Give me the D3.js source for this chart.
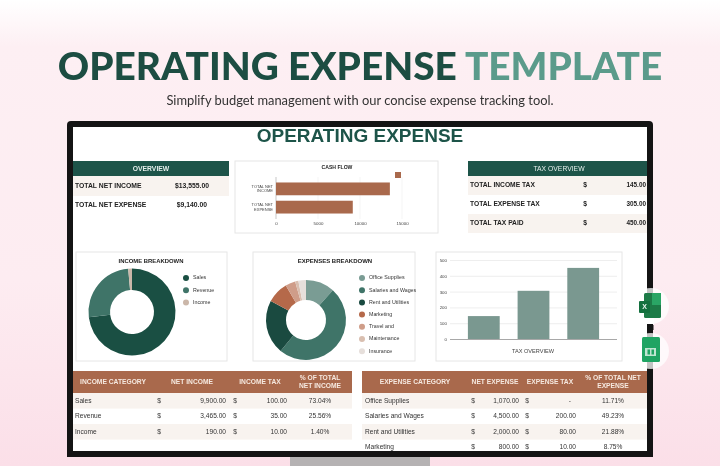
<!DOCTYPE html>
<html><head><meta charset="utf-8">
<script src="https://cdn.jsdelivr.net/npm/d3@7"></script>
<style>html,body{margin:0;padding:0;background:#fff}svg{display:block;filter:blur(.35px)}text{font-family:"Liberation Sans",Arial,sans-serif}</style>
</head><body><svg id="c" width="720" height="466"></svg>
<script>
const cashLabels=["TOTAL NET INCOME","TOTAL NET EXPENSE"];
const cashValues=[13555,9140];
const cashTicks=[0,5000,10000,15000];
const taxLabels=["TOTAL INCOME TAX","TOTAL EXPENSE TAX","TOTAL TAX PAID"];
const taxValues=[145,305,450];
const taxTicks=[0,100,200,300,400,500];
const incomeCats=["Sales","Revenue","Income"];
const incomeNet=[9900,3465,190];
const incomeTax=[100,35,10];
const incomePct=["73.04%","25.56%","1.40%"];
const expenseCats=["Office Supplies","Salaries and Wages","Rent and Utilities","Marketing","Travel and","Maintenance","Insurance"];
const expenseNet=[1070,4500,2000,800,370,120,280];
const expenseTax=[null,200,80,10];
const expensePct=["11.71%","49.23%","21.88%","8.75%"];
const incomeColors=["#1a4f43","#3f7468","#cbb7a9"];
const expenseColors=["#7a9c94","#3f7468","#1a4a40","#b5694a","#cf9d89","#d9bfb0","#e6dfdb"];

const GREEN="#1d5449",BROWN="#a9694c",INK="#222",TINT="#f8f3ef";
const svg=d3.select("#c");
const defs=svg.append("defs");
const g=defs.append("linearGradient").attr("id","bg").attr("x1",0).attr("y1",0).attr("x2",0).attr("y2",1);
[[0,"#ffffff"],[0.1,"#fdeff3"],[0.6,"#fdecf1"],[1,"#fbdfe8"]].forEach(s=>g.append("stop").attr("offset",s[0]).attr("stop-color",s[1]));
const rect=(x,y,w,h,f,extra={})=>{const r=svg.append("rect").attr("x",x).attr("y",y).attr("width",w).attr("height",h).attr("fill",f);Object.entries(extra).forEach(([k,v])=>r.attr(k,v));return r;};
const text=(x,y,s,o={})=>svg.append("text").attr("x",x).attr("y",y).text(s)
  .attr("font-size",o.size||6).attr("fill",o.fill||INK).attr("font-weight",o.weight||"normal")
  .attr("text-anchor",o.anchor||"start").attr("dominant-baseline","middle");
const fmt=d3.format(",.2f");

rect(0,0,720,466,"url(#bg)");
// headline
const head=svg.append("text").attr("x",360).attr("y",80).attr("text-anchor","middle")
  .style("font-family","Lato").attr("font-weight",900).attr("font-size",38.8);
head.append("tspan").attr("fill","#1c4d42").text("OPERATING EXPENSE ");
head.append("tspan").attr("fill","#5b9b8b").text("TEMPLATE");
svg.append("text").attr("x",360).attr("y",102).attr("dominant-baseline","middle").attr("text-anchor","middle")
  .style("font-family","Lato").attr("font-size",12.9).attr("fill","#333").text("Simplify budget management with our concise expense tracking tool.");

// monitor
rect(290,456,140,10,"#b5b2b3");
rect(67,121,586,336,"#141414",{rx:4});
rect(73,127,574,324,"#ffffff");

// inner title
text(360,137,"OPERATING EXPENSE",{size:19,weight:"bold",fill:"#1d5449",anchor:"middle"});

// overview
rect(73,161,156,15,GREEN);
text(151,169,"OVERVIEW",{size:6.8,weight:"bold",fill:"#e6efec",anchor:"middle"});
rect(73,176,156,20,TINT);
text(75,186,"TOTAL NET INCOME",{size:6.8,weight:"bold"});
text(209,186,"$"+fmt(cashValues[0]),{size:6.8,weight:"bold",anchor:"end"});
text(75,205,"TOTAL NET EXPENSE",{size:6.8,weight:"bold"});
text(207,205,"$"+fmt(cashValues[1]),{size:6.8,weight:"bold",anchor:"end"});

// card helper
const card=(x,y,w,h)=>rect(x,y,w,h,"#fff",{stroke:"#e6e6e6","stroke-width":1});

// cash flow
card(235,161,203,72);
text(337,168,"CASH FLOW",{size:5.1,weight:"bold",anchor:"middle"});
const cx=d3.scaleLinear().domain([0,15000]).range([276,402]);
const cy=d3.scaleBand().domain(cashLabels).range([177,219]).paddingInner(.3).paddingOuter(.3);
svg.append("g").attr("transform","translate(0,219)")
  .call(d3.axisBottom(cx).tickValues(cashTicks).tickSize(0).tickPadding(3).tickFormat(d3.format("d")))
  .call(a=>a.select(".domain").remove())
  .call(a=>a.selectAll("text").attr("font-size",4.4).attr("fill","#444").style("font-family","Liberation Sans"));
svg.append("g").selectAll("line").data(cashTicks.slice(1)).join("line")
  .attr("x1",d=>cx(d)).attr("x2",d=>cx(d)).attr("y1",177).attr("y2",219).attr("stroke","#eeeeee").attr("stroke-width",.6);
svg.append("line").attr("x1",276).attr("x2",276).attr("y1",177).attr("y2",219).attr("stroke","#b9b9b9").attr("stroke-width",.8);
svg.append("g").selectAll("rect").data(cashValues).join("rect")
  .attr("x",cx(0)).attr("y",(d,i)=>cy(cashLabels[i])).attr("width",d=>cx(d)-cx(0)).attr("height",cy.bandwidth()).attr("fill",BROWN);
cashLabels.forEach((l,i)=>{
  const m=cy(l)+cy.bandwidth()/2;
  const w=l.split(" ");
  text(273,m-2.4,w.slice(0,2).join(" "),{size:4,anchor:"end",fill:"#444"});
  text(273,m+2.4,w[2],{size:4,anchor:"end",fill:"#444"});
});
rect(395,172,6,6,BROWN);

// tax overview
rect(468,161,179,15,GREEN);
text(559,169,"TAX OVERVIEW",{size:6.8,fill:"#e6efec",anchor:"middle"});
rect(468,176,179,19,TINT);rect(468,214,179,19,TINT);
taxLabels.forEach((l,i)=>{
  const y=185.5+i*19;
  text(470,y,l,{size:6.7,weight:"bold"});
  text(585,y,"$",{size:6.7,weight:"bold",anchor:"middle"});
  text(646,y,d3.format(".2f")(taxValues[i]),{size:6.4,weight:"bold",anchor:"end"});
});

// donuts
function donut(cxp,cyp,ro,ri,vals,cols){
  const p=d3.pie().sort(null)(vals);
  svg.append("g").attr("transform",`translate(${cxp},${cyp})`).selectAll("path").data(p).join("path")
    .attr("d",d3.arc().innerRadius(ri).outerRadius(ro)).attr("fill",(d,i)=>cols[i]);
}
function legend(x,y0,step,names,cols){
  names.forEach((n,i)=>{
    svg.append("circle").attr("cx",x).attr("cy",y0+i*step).attr("r",3).attr("fill",cols[i]);
    text(x+7,y0+i*step,n,{size:5.3,fill:"#333"});
  });
}
card(76,252,151,109);
text(151,261,"INCOME BREAKDOWN",{size:5.9,weight:"bold",anchor:"middle"});
donut(132,312,43.5,22,incomeNet,incomeColors);
legend(186,278,12.3,incomeCats,incomeColors);

card(253,252,162,109);
text(335,261,"EXPENSES BREAKDOWN",{size:6,weight:"bold",anchor:"middle"});
donut(306,320,40,20,expenseNet,expenseColors);
legend(362,278,12.2,expenseCats,expenseColors);

// tax bar chart
card(436,252,186,109);
const bx=d3.scaleBand().domain(taxLabels).range([450,617]).paddingInner(.36).paddingOuter(.36);
const by=d3.scaleLinear().domain([0,500]).range([339,260]);
svg.append("g").attr("transform","translate(450,0)")
  .call(d3.axisLeft(by).tickValues(taxTicks).tickSize(-167).tickPadding(3).tickFormat(d3.format("d")))
  .call(a=>a.select(".domain").remove())
  .call(a=>a.selectAll("line").attr("stroke",d=>d===0?"#a8a8a8":"#e6e6e6").attr("stroke-width",d=>d===0?1:.7))
  .call(a=>a.selectAll("text").attr("font-size",4.4).attr("fill","#444").style("font-family","Liberation Sans"));
svg.append("g").selectAll("rect").data(taxValues).join("rect")
  .attr("x",(d,i)=>bx(taxLabels[i])).attr("y",d=>by(d)).attr("width",bx.bandwidth()).attr("height",d=>by(0)-by(d)).attr("fill","#7a9890");
text(533,352,"TAX OVERVIEW",{size:5.6,fill:"#444",anchor:"middle"});

function table(x,w,heads,cols,rows,rowY){
  rect(x,371,w,22,BROWN);
  heads.forEach((h,i)=>{
    const lines=h.split("|");
    lines.forEach((l,k)=>text(cols.head[i],382+(k-(lines.length-1)/2)*8,l,{size:6.7,weight:"bold",fill:"#f6e9e0",anchor:"middle"}));
  });
  rows.forEach((r,i)=>{
    const y=rowY[i];
    if(i%2===0) rect(x,y-8,w,15.6,TINT);
    text(cols.cat,y,r[0],{size:6.6,fill:"#333"});
    text(cols.d1,y,"$",{size:6.6,fill:"#333",anchor:"middle"});
    text(cols.net,y,fmt(r[1]),{size:6.6,fill:"#333",anchor:"end"});
    text(cols.d2,y,"$",{size:6.6,fill:"#333",anchor:"middle"});
    if(r[2]==null) text(cols.tax-5,y,"-",{size:6.6,fill:"#333",anchor:"end"});
    else text(cols.tax,y,fmt(r[2]),{size:6.6,fill:"#333",anchor:"end"});
    text(cols.pct,y,r[3],{size:6.6,fill:"#333",anchor:"middle"});
  });
}
table(73,279,["INCOME CATEGORY","NET INCOME","INCOME TAX","% OF TOTAL|NET INCOME"],
 {head:[113,192,260,320],cat:75,d1:159,net:226,d2:235,tax:287,pct:320},
 incomeCats.map((c,i)=>[c,incomeNet[i],incomeTax[i],incomePct[i]]),[401,416,432]);
table(362,285,["EXPENSE CATEGORY","NET EXPENSE","EXPENSE TAX","% OF TOTAL NET|EXPENSE"],
 {head:[415,495,550,613],cat:365,d1:473,net:519,d2:527,tax:576,pct:613},
 expenseCats.slice(0,4).map((c,i)=>[c,expenseNet[i],expenseTax[i],expensePct[i]]),[401,416,432,447]);
// bezel bottom sits over the cut-off last row
rect(67,451,586,6,"#141414");
rect(290,457,140,9,"#b5b2b3");

// spreadsheet badges
svg.append("circle").attr("cx",651).attr("cy",306).attr("r",18).attr("fill","#fff").attr("opacity",.75);
svg.append("circle").attr("cx",651).attr("cy",351).attr("r",18).attr("fill","#fff").attr("opacity",.75);
rect(647,294,7,30,"#fff");
rect(647.5,325,6,5,"#141414");
rect(647,369,6,8,"#141414");
rect(644,293,17,25,"#1d7a47",{rx:1.5});
rect(652,293,9,12,"#2aa565");
rect(639,301,11,12,"#13703e",{rx:1});
text(644.5,307.5,"X",{size:7,weight:"bold",fill:"#e8f5ee",anchor:"middle"});
rect(642,337,18,25,"#1fa463",{rx:1.5});
rect(645,348,11,8,"#bfe5d1");
rect(647.5,349.5,2.5,5,"#1fa463");rect(651.5,349.5,2.5,5,"#1fa463");
</script></body></html>
